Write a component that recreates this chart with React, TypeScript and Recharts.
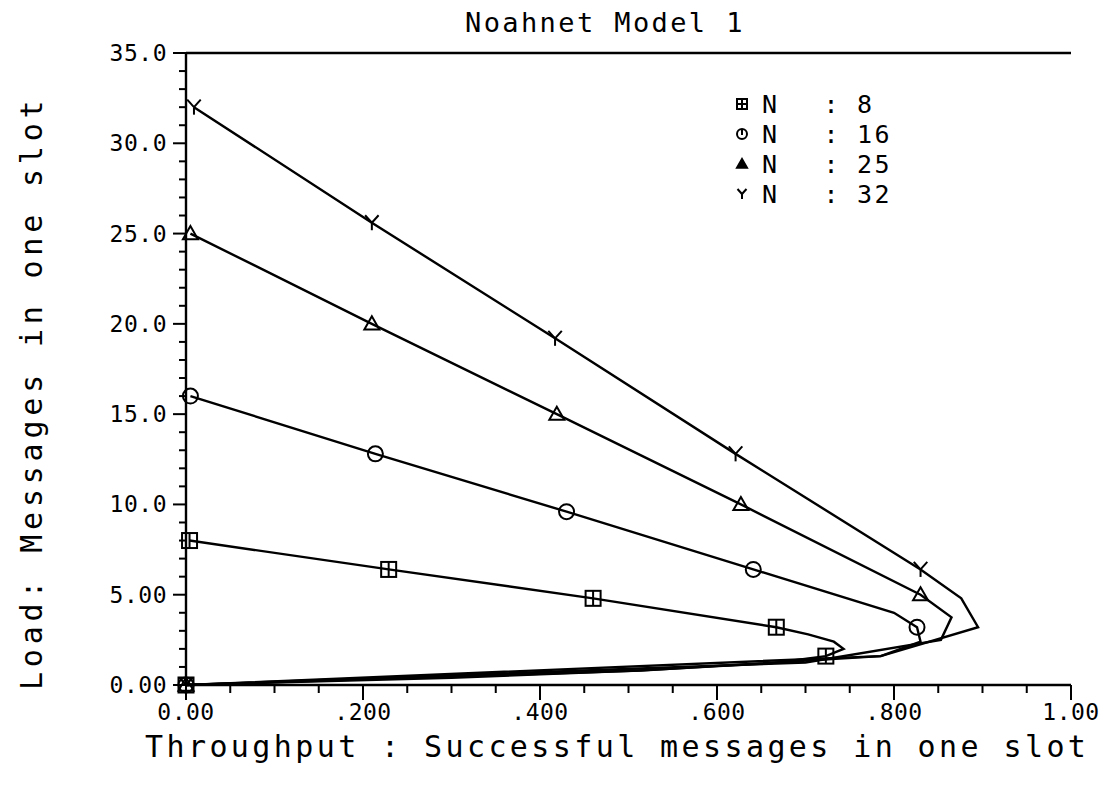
import React from 'react';
import { LineChart, Line, XAxis, YAxis, ReferenceLine } from 'recharts';

// Throughput (x) and Load (y) per series
const n8Throughput = [0.004, 0.229, 0.46, 0.667, 0.703, 0.732, 0.743, 0.723, 0.66, 0.51, 0.30, 0.0];
const n8Load = [8, 6.4, 4.8, 3.2, 2.8, 2.4, 2.0, 1.6, 1.2, 0.8, 0.4, 0];
const n8Marks = [0, 1, 2, 3, 7, 11];

const n16Throughput = [0.005, 0.214, 0.43, 0.641, 0.80, 0.826, 0.83, 0.785, 0.514, 0.0];
const n16Load = [16, 12.8, 9.6, 6.4, 4.0, 3.2, 2.4, 1.6, 0.8, 0];
const n16Marks = [0, 1, 2, 3, 5, 9];

const n25Throughput = [0.005, 0.21, 0.419, 0.627, 0.83, 0.865, 0.853, 0.70, 0.0];
const n25Load = [25, 20, 15, 10, 5, 3.75, 2.5, 1.25, 0];
const n25Marks = [0, 1, 2, 3, 4, 8];

const n32Throughput = [0.009, 0.21, 0.417, 0.621, 0.83, 0.876, 0.895, 0.785, 0.0];
const n32Load = [32, 25.6, 19.2, 12.8, 6.4, 4.8, 3.2, 1.6, 0];
const n32Marks = [0, 1, 2, 3, 4, 8];

const seriesNames = ['8', '16', '25', '32'];

const xTickValues = [0, 0.05, 0.1, 0.15, 0.2, 0.25, 0.3, 0.35, 0.4, 0.45, 0.5, 0.55, 0.6, 0.65, 0.7, 0.75, 0.8, 0.85, 0.9, 0.95, 1.0];
const xMajorLabels = ['0.00', '.200', '.400', '.600', '.800', '1.00'];
const yTickValues = [0, 1, 2, 3, 4, 5, 6, 7, 8, 9, 10, 11, 12, 13, 14, 15, 16, 17, 18, 19, 20, 21, 22, 23, 24, 25, 26, 27, 28, 29, 30, 31, 32, 33, 34, 35];
const yMajorLabels = ['0.00', '5.00', '10.0', '15.0', '20.0', '25.0', '30.0', '35.0'];

const title = 'Noahnet Model 1';
const xTitle = 'Throughput : Successful messages in one slot';
const yTitle = 'Load: Messages in one slot';

const FONT = '"DejaVu Sans Mono", monospace';
const INK = '#000';
const LW = 2.4;

const build = (s: number[], l: number[]) => s.map((v, i) => ({ s: v, l: l[i] }));

type Kind = 'square' | 'circle' | 'triangle' | 'y';

const Marker = ({ kind, cx, cy, r = 7.5, filled = false }: { kind: Kind; cx: number; cy: number; r?: number; filled?: boolean }) => {
  const common = { stroke: INK, strokeWidth: 2, fill: filled ? INK : 'none' };
  if (kind === 'square')
    return (
      <g>
        <rect x={cx - r} y={cy - r} width={2 * r} height={2 * r} {...common} fill="none" />
        <line x1={cx} x2={cx} y1={cy - r} y2={cy + r} stroke={INK} strokeWidth={2} />
        {filled && <line x1={cx - r} x2={cx + r} y1={cy} y2={cy} stroke={INK} strokeWidth={2} />}
      </g>
    );
  if (kind === 'circle')
    return (
      <g>
        <circle cx={cx} cy={cy} r={r} {...common} fill="none" />
        {filled && <line x1={cx} x2={cx} y1={cy - r} y2={cy + 1} stroke={INK} strokeWidth={2} />}
      </g>
    );
  if (kind === 'triangle')
    return <polygon points={`${cx},${cy - r} ${cx - r},${cy + r * 0.75} ${cx + r},${cy + r * 0.75}`} {...common} />;
  return (
    <g stroke={INK} strokeWidth={2} fill="none">
      <line x1={cx} y1={cy} x2={cx - r * 0.9} y2={cy - r} />
      <line x1={cx} y1={cy} x2={cx + r * 0.9} y2={cy - r} />
      <line x1={cx} y1={cy} x2={cx} y2={cy + r} />
    </g>
  );
};

const makeDot = (kind: Kind, marks: number[]) => (p: any) => {
  const key = `${kind}-${p.index}`;
  if (!marks.includes(p.index) || p.cx == null) return <g key={key} />;
  return (
    <g key={key}>
      <Marker kind={kind} cx={p.cx} cy={p.cy} />
    </g>
  );
};

const XTick = (props: any) => {
  const { x, y, payload } = props;
  const k = Math.round(payload.value * 20);
  const major = k % 4 === 0;
  return (
    <g>
      <line x1={x} x2={x} y1={y} y2={y + (major ? 15 : 8)} stroke={INK} strokeWidth={2} />
      {major && (
        <text x={x} y={y + 35} textAnchor="middle" fontFamily={FONT} fontSize={23} letterSpacing={0.5} fill={INK}>
          {xMajorLabels[k / 4]}
        </text>
      )}
    </g>
  );
};

const YTick = (props: any) => {
  const { x, y, payload } = props;
  const v = Math.round(payload.value);
  const major = v % 5 === 0;
  return (
    <g>
      <line x1={x - (major ? 13 : 7)} x2={x} y1={y} y2={y} stroke={INK} strokeWidth={2} />
      {major && (
        <text x={x - 19} y={y + 8} textAnchor="end" fontFamily={FONT} fontSize={23} letterSpacing={0.5} fill={INK}>
          {yMajorLabels[v / 5]}
        </text>
      )}
    </g>
  );
};

const series = [
  { name: seriesNames[0], data: build(n8Throughput, n8Load), kind: 'square' as Kind, marks: n8Marks },
  { name: seriesNames[1], data: build(n16Throughput, n16Load), kind: 'circle' as Kind, marks: n16Marks },
  { name: seriesNames[2], data: build(n25Throughput, n25Load), kind: 'triangle' as Kind, marks: n25Marks },
  { name: seriesNames[3], data: build(n32Throughput, n32Load), kind: 'y' as Kind, marks: n32Marks },
];

export default function App() {
  return (
    <div style={{ position: 'absolute', left: 0, top: 0, width: 1110, height: 793, background: '#fff' }}>
      <LineChart width={1110} height={793} margin={{ top: 53, right: 39, bottom: 48, left: 86 }}>
        <XAxis
          type="number"
          dataKey="s"
          domain={[0, 1]}
          ticks={xTickValues}
          interval={0}
          tickSize={0}
          tickMargin={0}
          tick={<XTick />}
          axisLine={{ stroke: INK, strokeWidth: LW }}
          height={60}
        />
        <YAxis
          type="number"
          dataKey="l"
          domain={[0, 35]}
          ticks={yTickValues}
          interval={0}
          tickSize={0}
          tickMargin={0}
          tick={<YTick />}
          axisLine={{ stroke: INK, strokeWidth: LW }}
          width={100}
        />
        <ReferenceLine y={35} stroke={INK} strokeWidth={LW} ifOverflow="visible" />
        {series.map((s) => (
          <Line
            key={s.name}
            data={s.data}
            dataKey="l"
            type="linear"
            stroke={INK}
            strokeWidth={LW}
            dot={makeDot(s.kind, s.marks)}
            activeDot={false}
            isAnimationActive={false}
          />
        ))}
      </LineChart>
      <svg width={1110} height={793} style={{ position: 'absolute', left: 0, top: 0, pointerEvents: 'none' }}>
        <text x={465} y={32} fontFamily={FONT} fontSize={27} letterSpacing={2.4} fill={INK}>
          {title}
        </text>
        <text x={145} y={757} fontFamily={FONT} fontSize={30} letterSpacing={3.4} fill={INK}>
          {xTitle}
        </text>
        <text
          x={0}
          y={0}
          transform="translate(42,690) rotate(-90)"
          fontFamily={FONT}
          fontSize={30}
          letterSpacing={4.8}
          fill={INK}
        >
          {yTitle}
        </text>
        {series.map((s, i) => {
          const cy = 104 + i * 30;
          return (
            <g key={s.name}>
              <Marker kind={s.kind} cx={742} cy={cy} r={5} filled />
              <text x={762} y={cy + 9} fontFamily={FONT} fontSize={25} fill={INK}>N</text>
              <text x={831} y={cy + 9} textAnchor="middle" fontFamily={FONT} fontSize={25} fill={INK}>:</text>
              <text x={857} y={cy + 9} fontFamily={FONT} fontSize={25} letterSpacing={2.4} fill={INK}>{s.name}</text>
            </g>
          );
        })}
      </svg>
    </div>
  );
}
